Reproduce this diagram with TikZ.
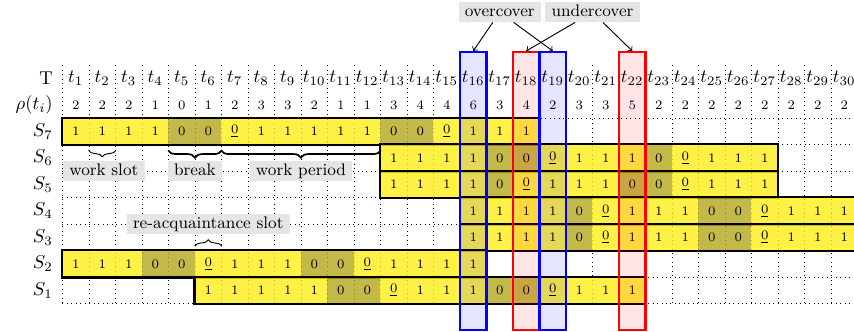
\documentclass[tikz,border=0pt]{standalone}
\usetikzlibrary{decorations.pathreplacing}
\definecolor{cY}{RGB}{255,238,24}
\definecolor{cD}{RGB}{180,168,30}
\colorlet{c1}{cY}\colorlet{c0}{cD}\colorlet{cu}{cY}
\newcommand\celltxt[1]{\if u#1\underline{0}\else #1\fi}
\begin{document}
\begin{tikzpicture}[x=0.5cm, y=-0.5cm,
  gridline/.style={dotted, line width=0.4pt},
  tlab/.style={fill=white, inner sep=0.3pt},
  rlab/.style={font=\scriptsize, inner sep=1pt},
  rowlab/.style={anchor=east},
  cellbox/.style={minimum size=0.5cm, inner sep=0pt, fill opacity=0.8, text opacity=1, font=\scriptsize},
  barline/.style={line width=1.2pt},
  hbox/.style={draw=#1, fill=#1, fill opacity=0.1, line width=1.1pt, minimum width=0.5cm, minimum height=5.25cm, inner sep=0pt},
  lab/.style={fill=gray!20, font=\small, text height=6.2pt, text depth=1.7pt, inner ysep=1.3pt},
  thinbrace/.style={decorate, decoration={brace, amplitude=3.5pt}, line width=0.5pt},
  thinbracedown/.style={decorate, decoration={brace, mirror, amplitude=3.5pt}, line width=0.5pt},
  thickbracedown/.style={decorate, decoration={brace, mirror, amplitude=4pt}, line width=0.9pt},
  pointer/.style={->, line width=0.5pt}
]
\useasboundingbox (-2.358,-2.962) rectangle (29.868,9.566);

% grid
\foreach \i in {0,...,30} \draw[gridline] (\i,-0.5) -- (\i,8.5);
\foreach \j in {1,...,8} \draw[gridline] (0,\j+0.5) -- (30,\j+0.5);

% header rows
\node[rowlab] (lT) at (-0.12,0) {T};
\node[rowlab] (lR) at (-0.12,1) {$\rho(t_i)$};
\foreach \i in {1,...,30} \node[tlab] (t\i) at (\i-0.5,0) {$t_{\i}$};
\foreach \v [count=\i from 1] in {2,2,2,1,0,1,2,3,3,2,1,1,3,4,4,6,3,4,2,3,3,5,2,2,2,2,2,2,2,2}
  \node[rlab] (r\i) at (\i-0.5,1) {\v};

% row labels
\node[rowlab] (lS7) at (-0.12,2) {$S_7$};
\node[rowlab] (lS6) at (-0.12,3) {$S_6$};
\node[rowlab] (lS5) at (-0.12,4) {$S_5$};
\node[rowlab] (lS4) at (-0.12,5) {$S_4$};
\node[rowlab] (lS3) at (-0.12,6) {$S_3$};
\node[rowlab] (lS2) at (-0.12,7) {$S_2$};
\node[rowlab] (lS1) at (-0.12,8) {$S_1$};

% S7
\foreach \v [count=\k from 1] in {1,1,1,1,0,0,u,1,1,1,1,1,0,0,u,1,1,1}
  \node[cellbox, fill=c\v] (a7-\k) at (\k-0.5,2) {\celltxt{\v}};
\draw[barline] (a7-1.north west) rectangle (a7-18.south east);
% S6
\foreach \v [count=\k from 13] in {1,1,1,1,0,0,u,1,1,1,0,u,1,1,1}
  \node[cellbox, fill=c\v] (a6-\k) at (\k-0.5,3) {\celltxt{\v}};
\draw[barline] (a6-13.north west) rectangle (a6-27.south east);
% S5
\foreach \v [count=\k from 13] in {1,1,1,1,0,u,1,1,1,0,0,u,1,1,1}
  \node[cellbox, fill=c\v] (a5-\k) at (\k-0.5,4) {\celltxt{\v}};
\draw[barline] (a5-13.north west) rectangle (a5-27.south east);
% S4
\foreach \v [count=\k from 16] in {1,1,1,1,0,u,1,1,1,0,0,u,1,1,1}
  \node[cellbox, fill=c\v] (a4-\k) at (\k-0.5,5) {\celltxt{\v}};
\draw[barline] (a4-16.north west) rectangle (a4-30.south east);
% S3
\foreach \v [count=\k from 16] in {1,1,1,1,0,u,1,1,1,0,0,u,1,1,1}
  \node[cellbox, fill=c\v] (a3-\k) at (\k-0.5,6) {\celltxt{\v}};
\draw[barline] (a3-16.north west) rectangle (a3-30.south east);
% S2
\foreach \v [count=\k from 1] in {1,1,1,0,0,u,1,1,1,0,0,u,1,1,1,1}
  \node[cellbox, fill=c\v] (a2-\k) at (\k-0.5,7) {\celltxt{\v}};
\draw[barline] (a2-1.north west) rectangle (a2-16.south east);
% S1
\foreach \v [count=\k from 6] in {1,1,1,1,1,0,0,u,1,1,1,0,0,u,1,1,1}
  \node[cellbox, fill=c\v] (a1-\k) at (\k-0.5,8) {\celltxt{\v}};
\draw[barline] (a1-6.north west) rectangle (a1-22.south east);

% highlighted columns
\node[hbox=blue] (h16) at (15.5,4.25) {};
\node[hbox=red]  (h18) at (17.5,4.25) {};
\node[hbox=blue] (h19) at (18.5,4.25) {};
\node[hbox=red]  (h22) at (21.5,4.25) {};

% callouts
\node[lab] (over) at (16.5,-2.5) {overcover};
\node[lab] (under) at (20,-2.5) {undercover};
\draw[pointer] (over) -- (h16.north);
\draw[pointer] (over) -- (h19.north);
\draw[pointer] (under) -- (h18.north);
\draw[pointer] (under) -- (h22.north);

% braces and annotations
\draw[thinbracedown] ([yshift=-2.8pt]a7-2.south west) -- ([yshift=-2.8pt]a7-2.south east);
\draw[thickbracedown] ([yshift=-2.8pt]a7-5.south west) -- ([yshift=-2.8pt]a7-6.south east);
\draw[thickbracedown] ([yshift=-2.8pt]a7-7.south west) -- ([yshift=-2.8pt]a7-12.south east);
\draw[thinbrace] ([yshift=2.2pt]a2-6.north west) -- ([yshift=2.2pt]a2-6.north east);
\node[lab] (wslot) at (1.56,3.5) {work slot};
\node[lab] (brk) at (5,3.5) {break};
\node[lab] (wper) at (9,3.5) {work period};
\node[lab] (racq) at (5.5,5.5) {re-acquaintance slot};
\end{tikzpicture}
\end{document}
